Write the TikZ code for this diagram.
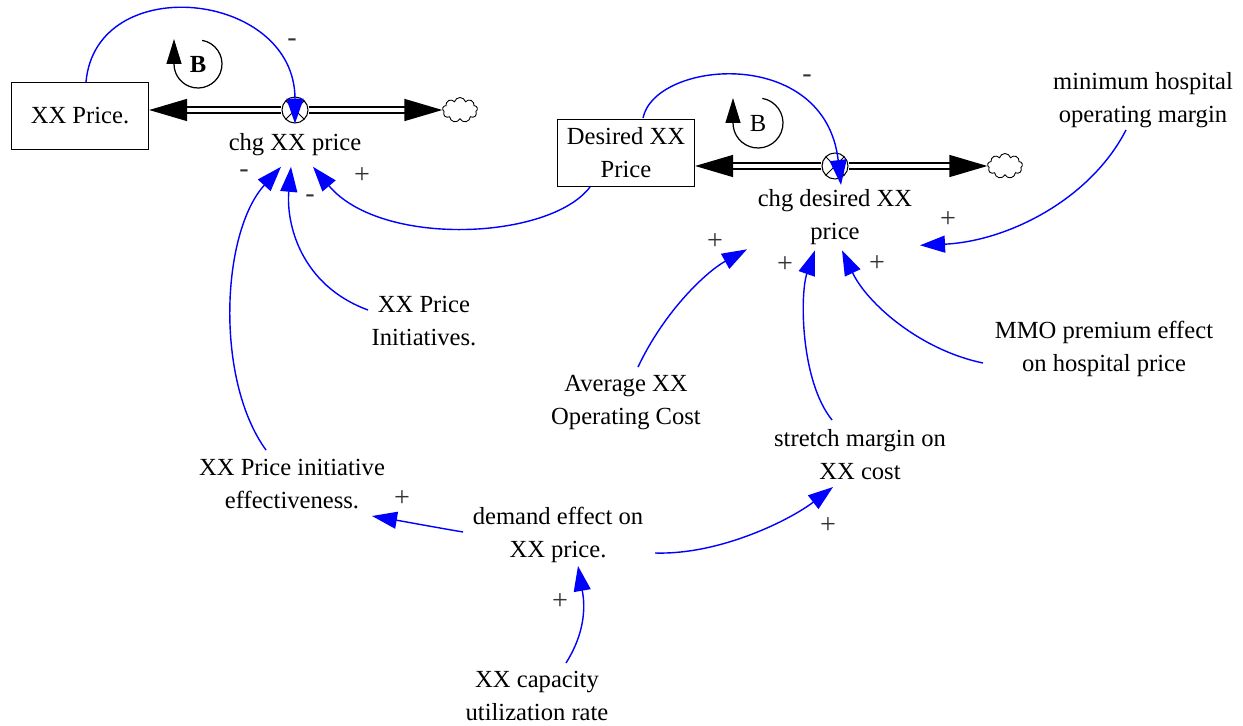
\documentclass[tikz,border=0pt]{standalone}
\usepackage{fontspec}
\setmainfont{Liberation Serif}
\usetikzlibrary{arrows.meta,positioning,shapes.symbols,calc}

\begin{document}
\begin{tikzpicture}[x=0.02cm,y=-0.02cm,
    font=\fontsize{14}{18.8}\selectfont,
    stock/.style={draw,line width=0.7pt,minimum width=2.74cm,minimum height=1.34cm,align=center},
    var/.style={align=center,inner sep=1pt},
    valve/.style={circle,draw,fill=white,minimum size=0.52cm,inner sep=0pt,line width=0.6pt,
        path picture={\draw[line width=0.5pt] (path picture bounding box.north west) -- (path picture bounding box.south east)
            (path picture bounding box.north east) -- (path picture bounding box.south west);}},
    cloudy/.style={cloud,cloud puffs=9,aspect=1.4,draw,line width=0.5pt,minimum width=0.7cm,minimum height=0.5cm,inner sep=0pt},
    pipe/.style={double,double distance=2.6pt,line width=0.8pt,-{Triangle[length=0.76cm,width=0.44cm]}},
    link/.style={blue,line width=0.8pt,-{Triangle[length=0.5cm,width=0.34cm]}},
    loopline/.style={line width=0.7pt,-{Triangle[length=0.5cm,width=0.3cm]}},
    pol/.style={font=\fontsize{16}{18}\selectfont,text=black!80,inner sep=0pt}]
   \useasboundingbox (0,0) rectangle (1243,726);

   % stocks, valves and clouds
   \node[stock] (price) at (80,116) {XX Price.};
   \node[valve] (v1) at (295,110) {};
   \node[var, below=0.16cm of v1] (chg1) {chg XX price};
   \node[cloudy] (cloud1) at (460,110) {};

   \node[stock] (desired) at (626,153) {Desired XX\\Price};
   \node[valve] (v2) at (835,166) {};
   \node[var, below=0.16cm of v2] (chg2) {chg desired XX\\price};
   \node[cloudy] (cloud2) at (1005,166) {};

   % auxiliaries
   \node[var] (minhosp) at (1143,100) {minimum hospital\\operating margin};
   \node[var] (mmo) at (1104,349) {MMO premium effect\\on hospital price};
   \node[var] (avgcost) at (626,403) {Average XX\\Operating Cost};
   \node[var] (stretch) at (860,455) {stretch margin on\\XX cost};
   \node[var] (init) at (424,321) {XX Price\\Initiatives.};
   \node[var] (effect) at (292,484) {XX Price initiative\\effectiveness.};
   \node[var] (demand) at (558,535) {demand effect on\\XX price.};
   \node[var] (capacity) at (537,696) {XX capacity\\utilization rate};

   % flows
   \draw[pipe] (v1.west) -- (price.east |- v1.west);
   \draw[pipe] (v1.east) -- (cloud1.west |- v1.east);
   \draw[pipe] (v2.west) -- (desired.east |- v2.west);
   \draw[pipe] (v2.east) -- (cloud2.west |- v2.east);

   % causal links
   \draw[link] ($(price)+(6,-34)$) .. controls +(10,-112) and +(0,-133) .. (v1.south);
   \draw[link] ($(desired)+(17,-35)$) .. controls +(12,-58) and +(-16,-140) .. ($(v2)+(6,19)$);
   \draw[link] ($(desired)+(-36,34)$) .. controls +(-40,53) and +(68,81) .. ($(chg1)+(18,22)$);
   \draw[link] ($(init)+(-56,-11)$) .. controls +(-68,-25) and +(-5,56) .. ($(chg1)+(-4,22)$);
   \draw[link] ($(effect)+(-26,-34)$) .. controls +(-51,-70) and +(-60,66) .. ($(chg1)+(-14,22)$);
   \draw[link] ($(demand)+(-95,-3)$) .. controls +(-35,-6) and +(35,6) .. ($(effect)+(80,32)$);
   \draw[link] ($(demand)+(97,18)$) .. controls +(65,2) and +(-43,33) .. ($(stretch)+(-27,32)$);
   \draw[link] ($(capacity)+(29,-33)$) .. controls +(24,-38) and +(5,29) .. ($(demand)+(20,31)$);
   \draw[link] ($(avgcost)+(12,-36)$) .. controls +(27,-57) and +(-40,22) .. ($(chg2)+(-88,32)$);
   \draw[link] ($(stretch)+(-28,-35)$) .. controls +(-32,-40) and +(-15,43) .. ($(chg2)+(-20,33)$);
   \draw[link] ($(mmo)+(-121,14)$) .. controls +(-63,-13) and +(25,53) .. ($(chg2)+(7,33)$);
   \draw[link] ($(minhosp)+(-17,30)$) .. controls +(-36,70) and +(87,-4) .. ($(chg2)+(85,28)$);

   % polarities
   \node[pol] (s1) at (292,43) {-};
   \node[pol] (s2) at (807,79) {-};
   \node[pol] (s3) at (362,176) {+};
   \node[pol] (s4) at (310,199) {-};
   \node[pol] (s5) at (244,174) {-};
   \node[pol] (s6) at (402,499) {+};
   \node[pol] (s7) at (828,526) {+};
   \node[pol] (s8) at (560,602) {+};
   \node[pol] (s9) at (715,242) {+};
   \node[pol] (s10) at (785,265) {+};
   \node[pol] (s11) at (877,264) {+};
   \node[pol] (s12) at (948,220) {+};

   % balancing loops
   \node[font=\fontsize{14}{16}\selectfont\bfseries] (loop1) at (198,64) {B};
   \draw[loopline] (loop1) ++(-80:24) arc[start angle=-80,end angle=180,radius=24] -- ++(0,-25);
   \node (loop2) at (758,123) {B};
   \draw[loopline] (loop2) ++(-80:25) arc[start angle=-80,end angle=180,radius=25] -- ++(0,-25);
\end{tikzpicture}
\end{document}
